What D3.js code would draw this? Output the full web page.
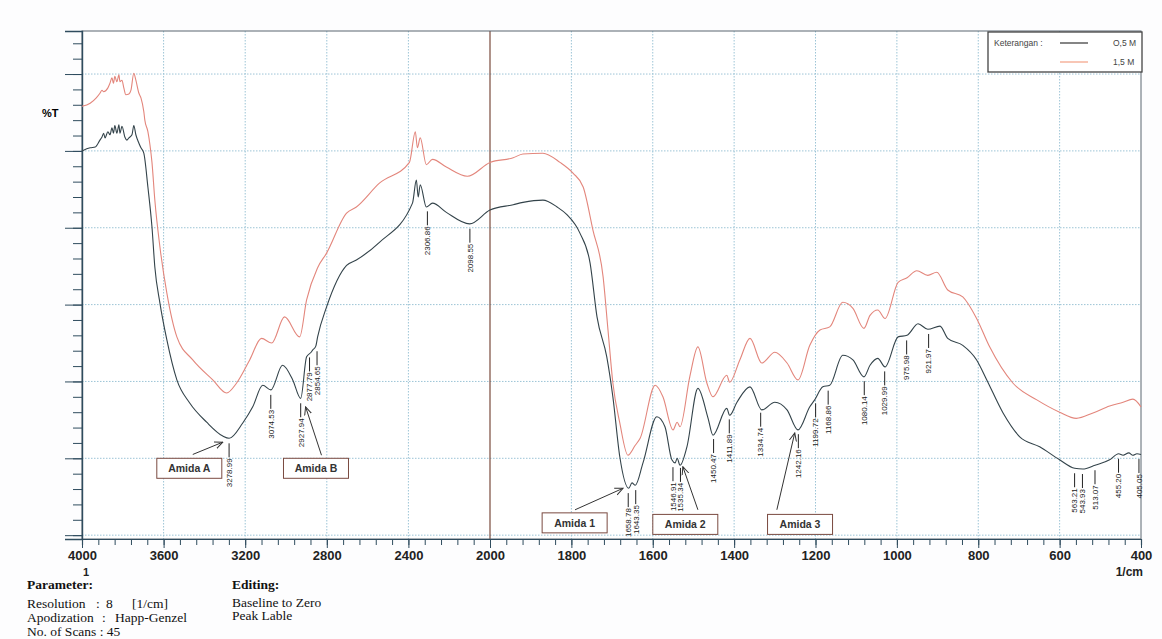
<!DOCTYPE html>
<html>
<head>
<meta charset="utf-8">
<script src="https://cdn.jsdelivr.net/npm/d3@7"></script>
<style>
  body { margin: 0; background: #fff; }
  svg { display: block; }
  .peak { font-family: "Liberation Sans Narrow", "Arial Narrow", "Liberation Sans", sans-serif; font-size: 8px; fill: #222; }
  .tick-lbl { font-family: "Liberation Sans", Arial, sans-serif; font-size: 13px; font-weight: bold; fill: #222; }
  .amida { font-family: "Liberation Sans", Arial, sans-serif; font-size: 10.5px; font-weight: bold; fill: #333; }
  .legend { font-family: "Liberation Sans", Arial, sans-serif; font-size: 8.5px; fill: #444; }
  .param { font-family: "Liberation Serif", "Times New Roman", serif; font-size: 13.5px; fill: #111; }
</style>
</head>
<body>
<div id="chart"></div>
<script>
// Spectrum 0,5 M : [wavenumber 1/cm, %T]
const spectrum05 = [
  [4000,50.0],[3960,50.4],[3935,50.5],[3912,51.4],[3902,51.8],[3894,52.3],[3887,51.7],[3873,52.5],
  [3863,52.1],[3853,53.0],[3846,52.3],[3839,53.3],[3829,52.3],[3819,53.4],[3814,52.3],[3804,53.2],
  [3790,51.8],[3780,51.4],[3770,51.7],[3755,52.1],[3746,53.3],[3736,52.1],[3721,51.0],[3711,50.4],
  [3697,49.7],[3677,45.3],[3657,40.1],[3643,34.9],[3618,30.2],[3584,25.4],[3535,20.2],[3472,17.2],
  [3389,14.7],[3310,12.9],[3279,12.6],[3212,14.6],[3163,16.7],[3114,19.5],[3074,18.9],[3017,22.1],
  [2967,20.2],[2928,17.8],[2899,23.2],[2877,23.8],[2869,24.1],[2854,24.6],[2845,25.8],[2801,29.7],
  [2703,35.1],[2655,35.8],[2542,38.1],[2380,43.2],[2361,46.2],[2352,44.0],[2342,45.6],[2312,42.7],
  [2282,43.2],[2214,42.0],[2100,40.5],[2000,42.3],[1943,43.0],[1919,43.3],[1870,43.6],[1835,42.7],
  [1811,41.7],[1779,39.3],[1754,35.4],[1737,28.4],[1713,23.2],[1698,18.0],[1681,10.2],[1659,6.1],
  [1651,6.8],[1643,6.5],[1624,9.4],[1590,15.4],[1570,14.1],[1553,9.8],[1545,9.4],[1540,10.0],
  [1533,9.1],[1516,11.5],[1489,19.1],[1464,15.2],[1452,13.0],[1418,16.5],[1411,15.6],[1393,17.3],
  [1361,19.3],[1332,16.3],[1300,17.3],[1270,16.3],[1243,13.7],[1214,16.7],[1202,17.6],[1182,19.3],
  [1165,19.5],[1133,23.4],[1108,22.8],[1081,20.6],[1066,22.1],[1047,23.0],[1029,21.9],[997,25.8],
  [975,26.0],[948,27.5],[924,26.8],[894,27.2],[875,25.6],[838,24.7],[804,22.8],[779,20.2],
  [739,15.9],[698,12.8],[649,11.5],[600,9.8],[563,8.7],[543,8.6],[513,9.1],[477,9.8],
  [455,10.6],[444,10.4],[430,10.7],[420,10.4],[410,10.6],[400,10.5]
];

// Spectrum 1,5 M : [wavenumber 1/cm, %T]
const spectrum15 = [
  [4000,55.8],[3960,56.2],[3930,56.9],[3912,57.5],[3902,57.9],[3894,57.7],[3873,58.2],[3863,58.8],
  [3853,59.5],[3846,58.8],[3839,59.7],[3829,59.0],[3819,59.9],[3814,59.0],[3804,59.2],[3795,58.2],
  [3785,57.3],[3770,57.4],[3760,57.9],[3746,60.1],[3736,59.2],[3721,57.5],[3711,56.9],[3697,55.1],
  [3692,54.0],[3677,52.5],[3667,50.8],[3657,48.5],[3643,43.6],[3618,37.5],[3584,31.5],[3535,25.8],
  [3457,22.8],[3359,20.2],[3291,18.5],[3242,19.8],[3178,22.8],[3120,25.6],[3070,25.0],[3007,28.4],
  [2933,25.8],[2899,30.6],[2845,34.8],[2801,36.7],[2703,41.9],[2655,42.7],[2542,45.8],[2395,48.5],
  [2366,52.5],[2356,50.4],[2342,51.7],[2312,48.2],[2282,48.9],[2214,47.9],[2111,46.7],[2000,48.5],
  [1943,49.1],[1919,49.6],[1870,49.7],[1828,48.5],[1796,47.1],[1771,45.3],[1747,39.7],[1722,33.6],
  [1710,26.7],[1698,19.8],[1681,14.6],[1661,10.4],[1643,11.7],[1631,12.6],[1594,19.5],[1575,18.0],
  [1550,13.7],[1540,14.7],[1533,14.1],[1509,20.6],[1489,24.5],[1467,19.8],[1452,18.0],[1418,20.8],
  [1411,19.9],[1386,22.8],[1361,25.6],[1332,22.4],[1300,23.8],[1270,22.4],[1243,20.2],[1214,24.7],
  [1189,26.7],[1165,27.1],[1133,30.3],[1108,29.5],[1081,26.9],[1066,28.6],[1047,29.3],[1029,28.2],
  [997,32.9],[975,33.5],[951,34.4],[924,33.8],[902,34.2],[875,31.9],[838,31.0],[804,28.2],
  [772,24.5],[715,19.8],[656,17.6],[600,16.0],[559,15.2],[518,15.9],[477,16.8],[444,17.3],
  [420,17.7],[400,16.7]
];

const peakLabels = ["3278.99","3074.53","2927.94","2877.79","2854.65","2306.86","2098.55",
  "1658.78","1643.35","1546.91","1535.34","1450.47","1411.89","1334.74","1242.16","1199.72",
  "1168.86","1080.14","1029.99","975.98","921.97","563.21","543.93","513.07","455.20","405.05"];

const xTickLabels = [4000,3600,3200,2800,2400,2000,1800,1600,1400,1200,1000,800,600,400];
const yMajorTicks = [0,10,20,30,40,50,60];

const legendNames = ["O,5 M","1,5 M"];

// Annotations: box centre, arrow tail and arrow head in [wavenumber, %T]
const annotations = [
  { text: "Amida A", box: [3474, 8.7], from: [3457, 10.5], to: [3310, 12.1] },
  { text: "Amida B", box: [2853, 8.7], from: [2826, 10.4], to: [2904, 16.7] },
  { text: "Amida 1", box: [1792, 1.6], from: [1791, 3.3],  to: [1673, 6.1] },
  { text: "Amida 2", box: [1520, 1.4], from: [1489, 3.3],  to: [1526, 8.9] },
  { text: "Amida 3", box: [1238, 1.4], from: [1295, 3.3],  to: [1251, 13.3] }
];

const colors = ["#33434a", "#e3867c"];

// Escala x con cambio de escala en 2000 1/cm
const x = d3.scaleLinear().domain([4000, 2000, 400]).range([82, 490, 1141]);
const y = d3.scaleLinear().domain([-0.5, 65.6]).range([539, 31]);

const svg = d3.select("#chart")
  .append("svg")
    .attr("width", 1162)
    .attr("height", 639);

svg.append("rect").attr("width", 1162).attr("height", 639).attr("fill", "#fdfdfe");
svg.append("rect")
  .attr("x", x(4000)).attr("y", y(65.6))
  .attr("width", x(400) - x(4000)).attr("height", y(-0.5) - y(65.6))
  .attr("fill", "#fff");

// Arrow marker
svg.append("defs").append("marker")
    .attr("id", "arrow")
    .attr("viewBox", "0 0 10 10")
    .attr("refX", 9).attr("refY", 5)
    .attr("markerWidth", 9).attr("markerHeight", 9)
    .attr("markerUnits", "userSpaceOnUse")
    .attr("orient", "auto")
  .append("path")
    .attr("d", "M0,1 L9,5 L0,9")
    .attr("fill", "none")
    .attr("stroke", "#333")
    .attr("stroke-width", 1.1);

// Grid
const grid = svg.append("g").attr("stroke", "#9cc4d6").attr("stroke-dasharray", "1.5,1.5").attr("stroke-width", 1);
grid.selectAll(".h").data(yMajorTicks).join("line")
  .attr("x1", x(4000)).attr("x2", x(400))
  .attr("y1", d => y(d)).attr("y2", d => y(d));
grid.selectAll(".v").data(xTickLabels.filter(d => d !== 2000 && d !== 4000 && d !== 400)).join("line")
  .attr("x1", d => x(d)).attr("x2", d => x(d))
  .attr("y1", y(65.6)).attr("y2", y(-0.5));

// Line at the scale break
svg.append("line")
  .attr("x1", x(2000)).attr("x2", x(2000))
  .attr("y1", y(65.6)).attr("y2", y(-0.5))
  .attr("stroke", "#7a4a3c").attr("stroke-width", 1.2);

// Frame
svg.append("rect")
  .attr("x", x(4000)).attr("y", y(65.6))
  .attr("width", x(400) - x(4000)).attr("height", y(-0.5) - y(65.6))
  .attr("fill", "none").attr("stroke", "#5a6670").attr("stroke-width", 1);

// Y axis (no labels)
const yMinor = d3.range(0, 65, 2);
svg.append("g")
  .attr("transform", `translate(${x(4000)},0)`)
  .call(d3.axisLeft(y).tickValues(yMinor).tickSize(9).tickFormat(""))
  .call(g => g.select(".domain").remove());
svg.append("g")
  .attr("transform", `translate(${x(4000)},0)`)
  .call(d3.axisLeft(y).tickValues(yMajorTicks).tickSize(17).tickFormat(""))
  .call(g => g.select(".domain").attr("stroke", "#2f4c5e").attr("stroke-width", 1.4));
svg.selectAll("g .tick line").attr("stroke", "#2f4c5e");

svg.append("text")
  .attr("x", 42).attr("y", 117)
  .style("font-family", "Liberation Sans, Arial, sans-serif")
  .style("font-size", "11px").style("font-weight", "bold")
  .text("%T");

// X axis
const xMinor = d3.range(4000, 2000, -80).concat(d3.range(2000, 399, -40));
const xAxisG = svg.append("g").attr("transform", `translate(0,${y(-0.5)})`);
xAxisG.append("g")
  .call(d3.axisBottom(x).tickValues(xMinor).tickSize(6).tickFormat(""))
  .call(g => g.select(".domain").attr("stroke", "#2f4c5e").attr("stroke-width", 1.2));
xAxisG.append("g")
  .call(d3.axisBottom(x).tickValues(xTickLabels).tickSize(9).tickPadding(3).tickFormat(d3.format("d")))
  .call(g => g.select(".domain").remove())
  .call(g => g.selectAll("text").attr("class", "tick-lbl"));
xAxisG.selectAll(".tick line").attr("stroke", "#2f4c5e");

svg.append("text").attr("class", "tick-lbl")
  .attr("x", x(4000) + 4).attr("y", 576).attr("text-anchor", "middle")
  .style("font-size", "11px").text("1");
svg.append("text").attr("class", "tick-lbl")
  .attr("x", x(400) + 2).attr("y", 576).attr("text-anchor", "end")
  .style("font-size", "12px").text("1/cm");

// Curves
const line = d3.line()
  .x(d => x(d[0]))
  .y(d => y(d[1]))
  .curve(d3.curveMonotoneX);

[spectrum15, spectrum05].forEach((s, i) => {
  svg.append("path")
    .datum(s)
    .attr("fill", "none")
    .attr("stroke", i === 0 ? colors[1] : colors[0])
    .attr("stroke-width", 1.1)
    .attr("d", line);
});

// Peak labels on the 0,5 M curve
function valueAt(series, wn) {
  const i = series.findIndex(d => d[0] <= wn);
  if (i <= 0) return series[0][1];
  const a = series[i - 1], b = series[i];
  const t = (a[0] - wn) / (a[0] - b[0]);
  return a[1] + t * (b[1] - a[1]);
}

// label positions, pushed apart a little where two peaks are too close
const peakPos = peakLabels.map(d => ({ text: d, px: x(+d), py: y(valueAt(spectrum05, +d)) + 5 }));
for (let i = 1; i < peakPos.length; i++) {
  const gap = peakPos[i].px - peakPos[i - 1].px;
  if (gap < 7.5) {
    const shift = (7.5 - gap) / 2;
    peakPos[i - 1].px -= shift;
    peakPos[i].px += shift;
  }
}

const peaks = svg.append("g").selectAll("g")
  .data(peakPos)
  .join("g")
    .attr("transform", d => `translate(${d.px},${d.py})`);
peaks.append("line")
  .attr("y1", 0).attr("y2", 14)
  .attr("stroke", "#222").attr("stroke-width", 1);
peaks.append("text")
  .attr("class", "peak")
  .attr("transform", "translate(0,15) rotate(-90)")
  .attr("text-anchor", "end")
  .attr("dy", "0.35em")
  .text(d => d.text);

// Amida annotations
const ann = svg.append("g").selectAll("g").data(annotations).join("g");
ann.append("line")
  .attr("x1", d => x(d.from[0])).attr("y1", d => y(d.from[1]))
  .attr("x2", d => x(d.to[0])).attr("y2", d => y(d.to[1]))
  .attr("stroke", "#333").attr("stroke-width", 1)
  .attr("marker-end", "url(#arrow)");
ann.append("rect")
  .attr("x", d => x(d.box[0]) - 32.5).attr("y", d => y(d.box[1]) - 10)
  .attr("width", 65).attr("height", 20)
  .attr("fill", "#fff").attr("stroke", "#7a4a40").attr("stroke-width", 1);
ann.append("text")
  .attr("class", "amida")
  .attr("x", d => x(d.box[0])).attr("y", d => y(d.box[1]) + 4)
  .attr("text-anchor", "middle")
  .text(d => d.text);

// Legend
const legend = svg.append("g");
legend.append("rect")
  .attr("x", 988).attr("y", 32).attr("width", 154).attr("height", 40)
  .attr("fill", "#fff").attr("stroke", "#444").attr("stroke-width", 1.3);
legend.append("text").attr("class", "legend").attr("x", 994).attr("y", 46).text("Keterangan :");
legendNames.forEach((name, i) => {
  legend.append("line")
    .attr("x1", 1060).attr("x2", 1088)
    .attr("y1", 43 + i * 19).attr("y2", 43 + i * 19)
    .attr("stroke", i === 0 ? "#333" : "#f3a084").attr("stroke-width", 1.2);
  legend.append("text").attr("class", "legend")
    .attr("x", 1113).attr("y", 46 + i * 19).text(name);
});

// Parameter block
const params = svg.append("g").attr("class", "param");
params.append("text").attr("x", 27).attr("y", 589).style("font-weight", "bold").text("Parameter:");
params.append("text").attr("x", 27).attr("y", 608).text("Resolution");
params.append("text").attr("x", 96).attr("y", 608).text(":");
params.append("text").attr("x", 106).attr("y", 608).text("8");
params.append("text").attr("x", 132).attr("y", 608).text("[1/cm]");
params.append("text").attr("x", 27).attr("y", 622).text("Apodization");
params.append("text").attr("x", 102).attr("y", 622).text(":");
params.append("text").attr("x", 115).attr("y", 622).text("Happ-Genzel");
params.append("text").attr("x", 27).attr("y", 636).text("No. of Scans : 45");
params.append("text").attr("x", 232).attr("y", 589).style("font-weight", "bold").text("Editing:");
params.append("text").attr("x", 232).attr("y", 607).text("Baseline to Zero");
params.append("text").attr("x", 232).attr("y", 620).text("Peak Lable");
</script>
</body>
</html>
